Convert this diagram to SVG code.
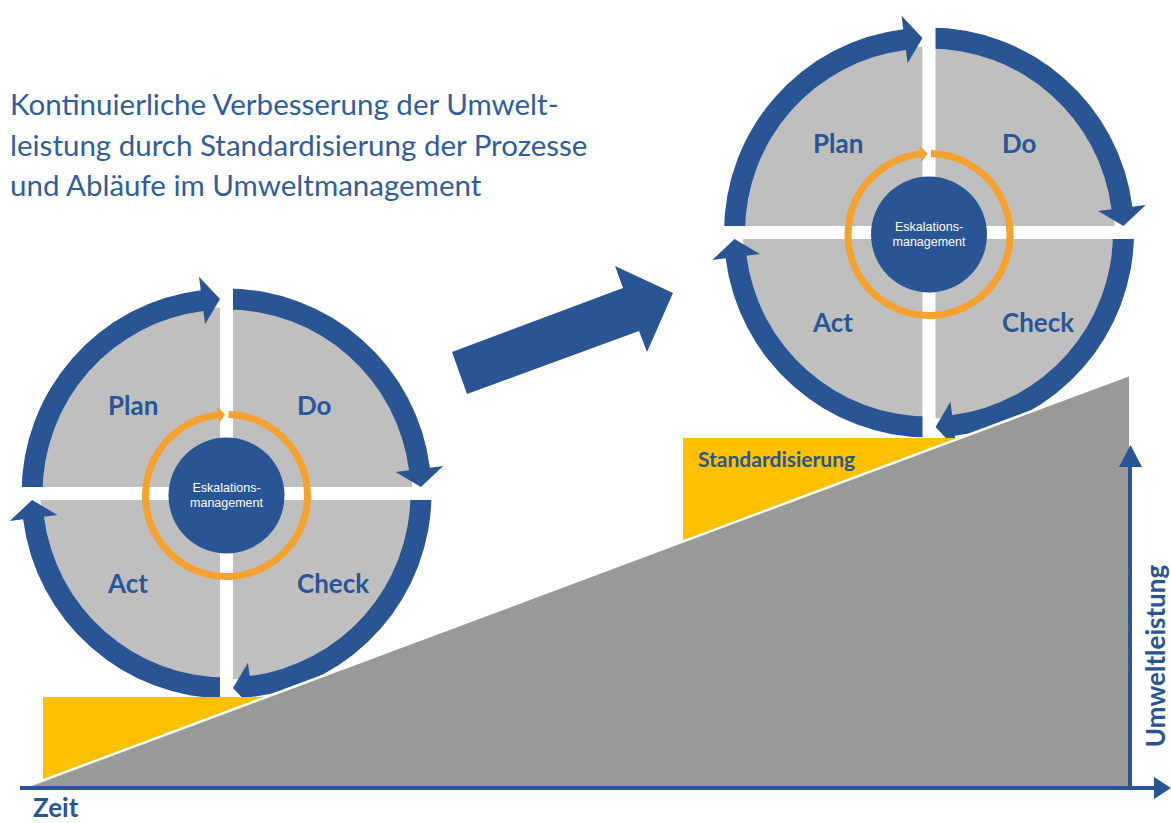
<svg xmlns="http://www.w3.org/2000/svg" xmlns:xlink="http://www.w3.org/1999/xlink" width="1171" height="823" viewBox="0 0 1171 823">
<style>
.lbl{font-family:Lato,"Open Sans","Liberation Sans",sans-serif;font-weight:700;font-size:26px;fill:#2A5594}
.esk{font-family:"Liberation Sans",Arial,sans-serif;font-size:12.5px;fill:#FFFFFF;text-anchor:middle}
.title{font-family:Lato,"Open Sans","Liberation Sans",sans-serif;font-size:29.5px;fill:#2F5E9F}
.blue{fill:#2A5594}
.orange{fill:#F4A22D}
</style>
<defs>
<path id="arc" class="blue" d="M -205 0 A 205 205 0 0 1 -25.77 -203.37 L -27.46 -216.77 L -6.5 -194.4 L -21.43 -169.15 L -23.13 -182.54 A 184 184 0 0 0 -184 0 Z"/>
<g id="cycle">
<circle r="186" fill="#BFBFBF"/>
<use xlink:href="#arc"/>
<use xlink:href="#arc" transform="rotate(90)"/>
<use xlink:href="#arc" transform="rotate(180)"/>
<use xlink:href="#arc" transform="rotate(270)"/>
<rect x="-6.5" y="-222" width="13" height="444" fill="#FFFFFF"/>
<rect x="-222" y="-6.5" width="444" height="13" fill="#FFFFFF"/>
<g transform="translate(0,2)">
<path d="M 2 -80.98 A 81 81 0 1 1 -8.47 -80.56" fill="none" stroke="#F4A22D" stroke-width="7"/>
<polygon class="orange" points="-9.36,-89.01 -1.5,-81 -7.58,-72.1"/>
<circle r="58" class="blue"/>
</g>
</g>
</defs>

<g id="title">
<text class="title" x="10" y="115">Kontinuierliche Verbesserung der Umwelt-</text>
<text class="title" x="10" y="156">leistung durch Standardisierung der Prozesse</text>
<text class="title" x="10" y="196">und Abläufe im Umweltmanagement</text>
</g>

<g id="pdca-left">
<use xlink:href="#cycle" transform="translate(226.5,493.5)"/>
<text class="lbl" x="108" y="415">Plan</text>
<text class="lbl" x="297" y="415">Do</text>
<text class="lbl" x="108" y="593">Act</text>
<text class="lbl" x="297" y="593">Check</text>
<text class="esk"><tspan x="226.5" y="491.5">Eskalations-</tspan><tspan x="226.5" y="506.5">management</tspan></text>
</g>

<g id="pdca-right">
<use xlink:href="#cycle" transform="translate(929,232.5)"/>
<text class="lbl" x="813" y="153">Plan</text>
<text class="lbl" x="1002" y="153">Do</text>
<text class="lbl" x="813" y="332">Act</text>
<text class="lbl" x="1002" y="332">Check</text>
<text class="esk"><tspan x="929" y="230.5">Eskalations-</tspan><tspan x="929" y="245.5">management</tspan></text>
</g>

<g id="standard-left">
<polygon points="43,697 272,697 43,782" fill="#FFC000"/>
</g>
<g id="standard-right">
<polygon points="683,438 965,438 683,543" fill="#FFC000"/>
<text class="lbl" x="698" y="467" style="font-size:21px">Standardisierung</text>
</g>

<g id="slope">
<polygon points="20,789 1129,375 1129,789" fill="#989A98"/>
<line x1="20" y1="789" x2="1129" y2="375" stroke="#FFFFFF" stroke-width="2.5"/>
</g>

<g id="connectors">
<polygon id="step-arrow" class="blue" points="452,352 623,288 615,266 673,293 647,352 639,331 467,394"/>
<g id="axis-x">
<line x1="20" y1="788" x2="1156" y2="788" stroke="#2A5594" stroke-width="4"/>
<polygon class="blue" points="1154,777 1171,788 1154,799"/>
</g>
<g id="axis-y">
<line x1="1130" y1="790" x2="1130" y2="465" stroke="#2A5594" stroke-width="4"/>
<polygon class="blue" points="1119,467 1130.5,445 1142,467"/>
</g>
</g>

<g id="axis-labels">
<text class="lbl" x="33" y="817">Zeit</text>
<text class="lbl" transform="translate(1165,656) rotate(-90)" text-anchor="middle">Umweltleistung</text>
</g>
</svg>
